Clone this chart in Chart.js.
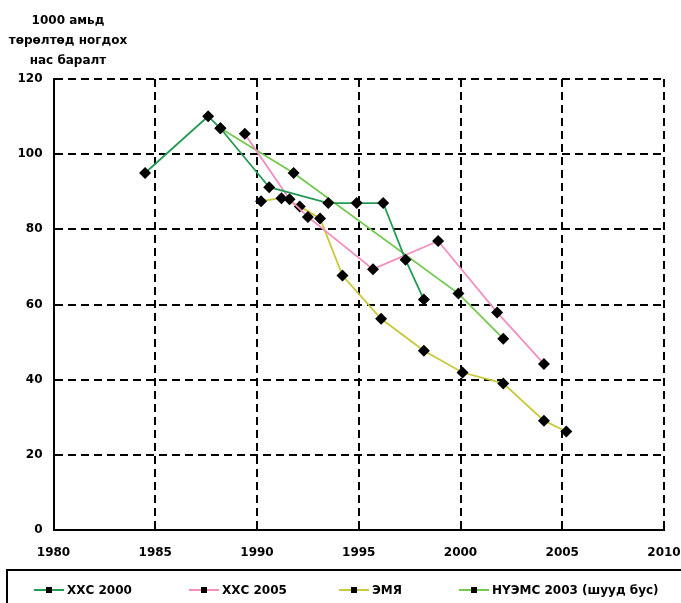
<!DOCTYPE html>
<html>
<head>
<meta charset="utf-8">
<script src="https://cdn.jsdelivr.net/npm/chart.js@4.4.1/dist/chart.umd.min.js"></script>
<style>
  html, body { margin: 0; padding: 0; background: #fff; }
  #wrap { position: relative; width: 681px; height: 603px; overflow: hidden; font-family: "DejaVu Sans", sans-serif; font-weight: bold; font-size: 12px; color: #000; }
  #chart { position: absolute; left: 0; top: 0; }
  #title { position: absolute; left: 0; top: 10px; width: 136px; text-align: center; line-height: 20px; white-space: nowrap; }
  #legend { position: absolute; left: 6px; top: 569px; width: 700px; height: 60px; border: 2px solid #000; box-sizing: border-box; }
  .item { position: absolute; top: 10px; height: 18px; line-height: 18px; white-space: nowrap; }
  .sw { position: absolute; top: 8px; width: 30px; height: 2px; }
  .mk { position: absolute; top: -2px; left: 12px; width: 6px; height: 6px; background: #000; }
  .tx { position: absolute; left: 33px; top: 0; }
</style>
</head>
<body>
<div id="wrap">
  <canvas id="chart" width="681" height="603"></canvas>
  <div id="title">1000 амьд<br>төрөлтөд ногдох<br>нас баралт</div>
  <div id="legend"></div>
</div>
<script>
// ---- data ----
const seriesNames = ["ХХС 2000", "ХХС 2005", "ЭМЯ", "НҮЭМС 2003 (шууд бус)"];
const seriesColors = ["#249a55", "#f38fc0", "#c9c83a", "#72c94e"];

const xxs2000Years  = [1984.5, 1987.6, 1988.2, 1990.6, 1993.5, 1994.9, 1996.2, 1997.3, 1998.2];
const xxs2000Values = [95.0, 110.1, 106.9, 91.2, 87.0, 87.0, 87.0, 71.9, 61.3];

const xxs2005Years  = [1989.4, 1991.6, 1992.5, 1995.7, 1998.9, 2001.8, 2004.1];
const xxs2005Values = [105.4, 88.0, 83.3, 69.4, 76.9, 57.9, 44.2];

const emyYears  = [1990.2, 1991.2, 1992.1, 1993.1, 1994.2, 1996.1, 1998.2, 2000.1, 2002.1, 2004.1, 2005.2];
const emyValues = [87.5, 88.3, 86.1, 82.9, 67.7, 56.2, 47.7, 41.9, 39.0, 29.1, 26.2];

const nuemsYears  = [1988.2, 1991.8, 1999.9, 2002.1];
const nuemsValues = [106.9, 95.0, 62.9, 50.9];

const xTicks = [1980, 1985, 1990, 1995, 2000, 2005, 2010];
const yTicks = [0, 20, 40, 60, 80, 100, 120];

// ---- build ----
const pairs = (xs, ys) => xs.map((x, i) => ({ x: x, y: ys[i] }));
const allYears = [xxs2000Years, xxs2005Years, emyYears, nuemsYears];
const allValues = [xxs2000Values, xxs2005Values, emyValues, nuemsValues];

const datasets = seriesNames.map((name, i) => ({
  label: name,
  data: pairs(allYears[i], allValues[i]),
  borderColor: seriesColors[i],
  backgroundColor: seriesColors[i],
  borderWidth: 1.8,
  tension: 0,
  showLine: true,
  fill: false,
  pointStyle: 'rectRot',
  pointRadius: 6,
  pointHoverRadius: 6,
  pointBackgroundColor: '#000',
  pointBorderColor: '#000',
  pointBorderWidth: 0
}));

Chart.defaults.font.family = '"DejaVu Sans", sans-serif';
Chart.defaults.font.size = 12;
Chart.defaults.font.weight = 'bold';
Chart.defaults.color = '#000';

new Chart(document.getElementById('chart'), {
  type: 'line',
  data: { datasets: datasets },
  options: {
    responsive: false,
    animation: false,
    events: [],
    layout: { padding: { left: 0, top: 79, right: 17, bottom: 0 } },
    plugins: { legend: { display: false }, tooltip: { enabled: false }, title: { display: false } },
    scales: {
      x: {
        type: 'linear',
        min: xTicks[0],
        max: xTicks[xTicks.length - 1],
        afterBuildTicks: (s) => { s.ticks = xTicks.map(v => ({ value: v })); },
        afterFit: (s) => { s.height = 73; s.paddingLeft = 0; s.paddingRight = 0; },
        ticks: { padding: 16, maxRotation: 0, autoSkip: false, callback: (v) => String(v), font: { weight: 'bold', size: 12 } },
        grid: { color: '#000', lineWidth: 2, drawTicks: false },
        border: { display: true, color: '#000', width: 2, dash: [8, 5] }
      },
      y: {
        min: yTicks[0],
        max: yTicks[yTicks.length - 1],
        afterBuildTicks: (s) => { s.ticks = yTicks.map(v => ({ value: v })); },
        afterFit: (s) => { s.width = 53.5; },
        ticks: { padding: 11, callback: (v) => String(v), font: { weight: 'bold', size: 12 } },
        grid: { color: '#000', lineWidth: 2, drawTicks: false },
        border: { display: true, color: '#000', width: 2, dash: [8, 5] }
      }
    }
  }
});

// legend (HTML)
const legendLeft = [26, 181, 331, 451];
const legend = document.getElementById('legend');
seriesNames.forEach((name, i) => {
  const it = document.createElement('div');
  it.className = 'item';
  it.style.left = legendLeft[i] + 'px';
  it.innerHTML = '<div class="sw" style="background:' + seriesColors[i] + '"><div class="mk"></div></div><span class="tx">' + name + '</span>';
  legend.appendChild(it);
});
</script>
</body>
</html>
